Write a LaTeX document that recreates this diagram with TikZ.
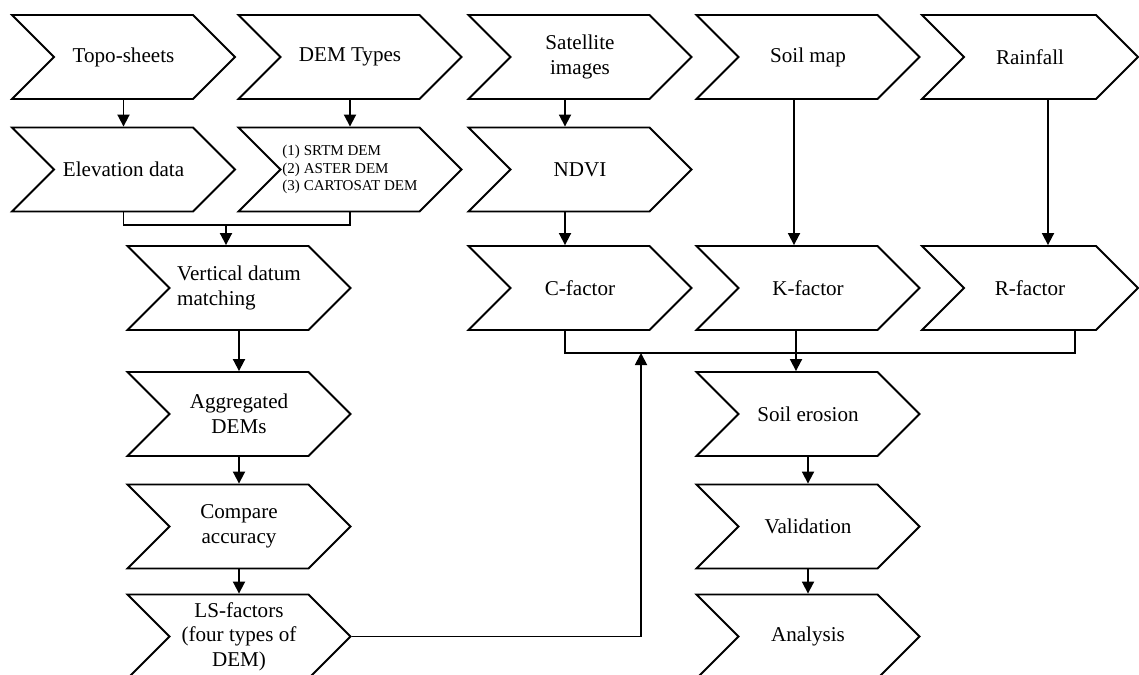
\documentclass[tikz,border=0pt]{standalone}
\usepackage{fontspec}
\setmainfont{Liberation Serif}
\usepackage{tikz}
\usetikzlibrary{shapes.symbols,arrows.meta}

\begin{document}
\begin{tikzpicture}[x=0.025cm,y=-0.025cm,
    chevnode/.style={signal, signal from=west, signal to=east, signal pointer angle=90, draw=black, line width=1.3pt, fill=white, minimum width=5.575cm, minimum height=2.1cm, inner sep=0pt, align=center, font=\fontsize{15}{17.5}\selectfont},
    flow/.style={line width=1.3pt, -{Triangle[length=3mm,width=3mm]}}]
        \useasboundingbox (0,0) rectangle (1139,675);

        \node[chevnode] (topo) at (123.5,57) {Topo-sheets};
        \node[chevnode] (demtypes) at (350,57) {DEM Types};
        \node[chevnode] (sat) at (580,57) {Satellite\\images};
        \node[chevnode] (soilmap) at (808,57) {Soil map};
        \node[chevnode, minimum width=5.4cm] (rain) at (1030,57) {Rainfall};
        \node[chevnode] (elev) at (123.5,169.5) {Elevation data};
        \node[chevnode, align=left, font=\fontsize{10.7}{12.2}\selectfont] (demlist) at (350,169.5) {(1) SRTM DEM\\(2) ASTER DEM\\(3) CARTOSAT DEM};
        \node[chevnode] (ndvi) at (580,169.5) {NDVI};
        \node[chevnode, align=left] (vdatum) at (239,288) {Vertical datum\\matching};
        \node[chevnode] (cfac) at (580,288) {C-factor};
        \node[chevnode] (kfac) at (808,288) {K-factor};
        \node[chevnode, minimum width=5.4cm] (rfac) at (1030,288) {R-factor};
        \node[chevnode] (aggr) at (239,414) {Aggregated\\DEMs};
        \node[chevnode] (erosion) at (808,414) {Soil erosion};
        \node[chevnode] (comp) at (239,526.5) {Compare\\accuracy};
        \node[chevnode] (valid) at (808,526.5) {Validation};
        \node[chevnode] (lsfac) at (239,636.5) {LS-factors\\(four types of\\DEM)};
        \node[chevnode] (analysis) at (808,636.5) {Analysis};

        \coordinate (demjoin) at (226,225);
        \coordinate (facjoin) at (796,353);
        \coordinate (satx) at (565,0);
        \coordinate (soilx) at (794,0);
        \coordinate (rainx) at (1048,0);
        \coordinate (rfacx) at (1075,0);
        \coordinate (lsx) at (641,0);

        \draw[flow] (topo.south) -- (elev.north);
        \draw[flow] (demtypes.south) -- (demlist.north);
        \draw[line width=1.3pt] (elev.south) |- (demjoin) -| (demlist.south);
        \draw[flow] (demjoin) -- (demjoin |- vdatum.north);
        \draw[flow] (vdatum.south) -- (aggr.north);
        \draw[flow] (aggr.south) -- (comp.north);
        \draw[flow] (comp.south) -- (lsfac.north);
        \draw[flow] (lsfac.east) -| (lsx |- facjoin);

        \draw[flow] (sat.south -| satx) -- (ndvi.north -| satx);
        \draw[flow] (ndvi.south -| satx) -- (cfac.north -| satx);
        \draw[flow] (soilmap.south -| soilx) -- (kfac.north -| soilx);
        \draw[flow] (rain.south -| rainx) -- (rfac.north -| rainx);
        \draw[line width=1.3pt] (cfac.south -| satx) |- (facjoin) -| (rfac.south -| rfacx);
        \draw[flow] (kfac.south -| facjoin) -- (erosion.north -| facjoin);
        \draw[flow] (erosion.south) -- (valid.north);
        \draw[flow] (valid.south) -- (analysis.north);

    \end{tikzpicture}
\end{document}
